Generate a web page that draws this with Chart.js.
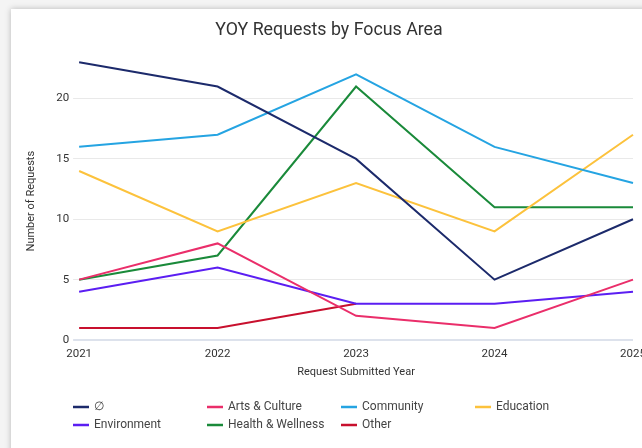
<!DOCTYPE html>
<html>
<head>
<meta charset="utf-8">
<script src="https://cdn.jsdelivr.net/npm/chart.js@4/dist/chart.umd.min.js"></script>
<style>
  html, body { margin: 0; padding: 0; background: #f4f4f4; overflow: hidden; }
  body { width: 642px; height: 448px; position: relative; }
  .card {
    position: absolute; left: 11px; top: 9px; width: 642px; height: 460px;
    background: #fff; box-shadow: 0 0 6px rgba(0,0,0,0.25);
  }
  .wrap { position: absolute; left: 0; top: 0; width: 642px; height: 439px; }
</style>
</head>
<body>
<div class="card"><div class="wrap"><canvas id="chart-line"></canvas></div></div>
<script>
// данные
const years = ["2021", "2022", "2023", "2024", "2025"];
const seriesNames = ["∅", "Arts & Culture", "Community", "Education", "Environment", "Health & Wellness", "Other"];
const noFocus = [23, 21, 15, 5, 10];
const artsCulture = [5, 8, 2, 1, 5];
const community = [16, 17, 22, 16, 13];
const education = [14, 9, 13, 9, 17];
const environment = [4, 6, 3, 3, 4];
const healthWellness = [5, 7, 21, 11, 11];
const other = [1, 1, 3, null, null];
const yTicks = [0, 5, 10, 15, 20];
const yMax = 23;

const seriesColors = ["#1c2a6b", "#ea2e6a", "#25a4e2", "#fcc23c", "#5b1ef2", "#1a8a3a", "#c8102e"];
const seriesValues = [noFocus, artsCulture, community, education, environment, healthWellness, other];

const FONT = "Roboto, 'Noto Sans', Arial, sans-serif";

// легенда сеткой по 4 колонки
const gridLegend = {
  id: "gridLegend",
  afterDraw(chart) {
    const { ctx } = chart;
    ctx.save();
    ctx.font = "12px " + FONT;
    ctx.textBaseline = "middle";
    chart.data.datasets.forEach((ds, i) => {
      const col = i % 4;
      const row = Math.floor(i / 4);
      const x = 62 + col * 134;
      const y = 398 + row * 18;
      ctx.strokeStyle = ds.borderColor;
      ctx.lineWidth = 2.5;
      ctx.beginPath();
      ctx.moveTo(x, y);
      ctx.lineTo(x + 16, y);
      ctx.stroke();
      ctx.fillStyle = "#444";
      ctx.fillText(ds.label, x + 21, y);
    });
    ctx.restore();
  },
};

new Chart(document.getElementById("chart-line"), {
  type: "line",
  data: {
    labels: years,
    datasets: seriesNames.map((name, i) => ({
      label: name,
      data: seriesValues[i],
      borderColor: seriesColors[i],
      backgroundColor: seriesColors[i],
      borderWidth: 2,
      pointRadius: 0,
      pointHoverRadius: 0,
      tension: 0,
      clip: false,
    })),
  },
  options: {
    responsive: true,
    maintainAspectRatio: false,
    animation: false,
    layout: { padding: { top: 11, right: 20, bottom: 69, left: 14 } },
    plugins: {
      legend: { display: false },
      tooltip: { enabled: false },
      title: {
        display: true,
        text: "YOY Requests by Focus Area",
        color: "#333",
        font: { family: FONT, size: 17.8, weight: "normal" },
        padding: { top: 0, bottom: 21 },
      },
    },
    scales: {
      x: {
        offset: false,
        grid: { display: false },
        border: { display: false },
        ticks: { color: "#333", font: { family: FONT, size: 11.5 }, padding: -1, maxRotation: 0 },
        title: {
          display: true,
          text: "Request Submitted Year",
          color: "#333",
          font: { family: FONT, size: 11 },
          padding: { top: 6, bottom: 0 },
        },
      },
      y: {
        min: 0,
        max: yMax,
        afterBuildTicks(scale) {
          scale.ticks = yTicks.map((v) => ({ value: v }));
        },
        grid: {
          color: (c) => (c.tick && c.tick.value === 0 ? "#dde2ec" : "#e9e9e9"),
          lineWidth: (c) => (c.tick && c.tick.value === 0 ? 2 : 1),
          tickLength: 6,
        },
        border: { display: false },
        ticks: { color: "#333", font: { family: FONT, size: 11.5 }, padding: 4 },
        title: {
          display: true,
          text: "Number of Requests",
          color: "#333",
          font: { family: FONT, size: 11 },
          padding: { top: 0, bottom: 14 },
        },
      },
    },
  },
  plugins: [gridLegend],
});
</script>
</body>
</html>
